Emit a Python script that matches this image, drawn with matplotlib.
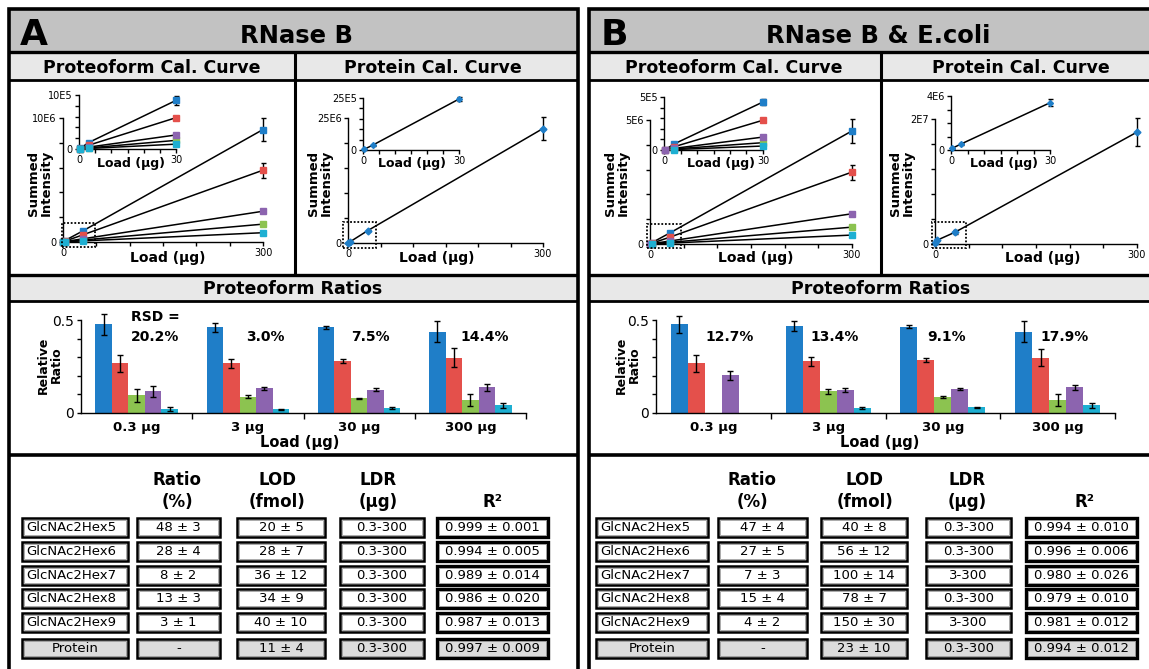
import matplotlib
matplotlib.use('Agg')
import matplotlib.pyplot as plt
from matplotlib.patches import Rectangle
from matplotlib.lines import Line2D
import numpy as np

plt.rcParams['font.family'] = ['DejaVu Sans']

W, H = 1149, 669

# ---------------- data ----------------
loads = [0.3, 3, 30, 300]
glycans = ['GlcNAc2Hex5', 'GlcNAc2Hex6', 'GlcNAc2Hex7', 'GlcNAc2Hex8', 'GlcNAc2Hex9']
colors = ['#1f7ec8', '#e4504b', '#8cc350', '#8c64af', '#1eafd2']
nan = float('nan')

# Panel A, proteoform calibration (summed intensity at each load)
a_form_int = [
    [0.010e6, 0.12e6, 0.90e6, 9.07e6],
    [0.006e6, 0.07e6, 0.58e6, 5.79e6],
    [0.002e6, 0.02e6, 0.16e6, 1.44e6],
    [0.004e6, 0.035e6, 0.26e6, 2.48e6],
    [0.001e6, 0.01e6, 0.09e6, 0.75e6],
]
a_form_err = [
    [0.002e6, 0.02e6, 0.09e6, 0.90e6],
    [0.001e6, 0.01e6, 0.03e6, 0.62e6],
    [0.000e6, 0.005e6, 0.01e6, 0.10e6],
    [0.001e6, 0.005e6, 0.01e6, 0.10e6],
    [0.000e6, 0.003e6, 0.01e6, 0.08e6],
]
# Panel A, protein calibration
a_prot_int = [0.03e6, 0.23e6, 2.45e6, 22.9e6]
a_prot_err = [0.01e6, 0.03e6, 0.08e6, 2.3e6]

# Panel B, proteoform calibration
b_form_int = [
    [0.005e5, 0.56e5, 4.53e5, 4.56e6],
    [0.015e5, 0.30e5, 2.81e5, 2.90e6],
    [nan, 0.10e5, 0.69e5, 0.68e6],
    [0.030e5, 0.15e5, 1.22e5, 1.22e6],
    [nan, 0.04e5, 0.375e5, 0.36e6],
]
b_form_err = [
    [0.01e5, 0.05e5, 0.30e5, 0.47e6],
    [0.01e5, 0.03e5, 0.15e5, 0.30e6],
    [nan, 0.01e5, 0.05e5, 0.05e6],
    [0.01e5, 0.01e5, 0.08e5, 0.06e6],
    [nan, 0.01e5, 0.04e5, 0.04e6],
]
# Panel B, protein calibration (main plot and 0-30 inset as drawn)
b_prot_int = [0.12e6, 0.60e6, 1.90e6, 17.9e6]
b_prot_err = [0.05e6, 0.10e6, 0.30e6, 2.2e6]
b_prot_inset = [0.12e6, 0.44e6, 3.50e6]
b_prot_inset_err = [0.05e6, 0.08e6, 0.25e6]

# Proteoform ratios (bars): rows = glycans, cols = loads
ratio_cats = ['0.3 μg', '3 μg', '30 μg', '300 μg']
a_ratio = [
    [0.477, 0.461, 0.461, 0.438],
    [0.268, 0.268, 0.279, 0.298],
    [0.095, 0.088, 0.079, 0.070],
    [0.116, 0.132, 0.125, 0.138],
    [0.021, 0.021, 0.027, 0.041],
]
a_ratio_err = [
    [0.055, 0.025, 0.008, 0.057],
    [0.045, 0.025, 0.012, 0.050],
    [0.035, 0.010, 0.004, 0.030],
    [0.030, 0.008, 0.008, 0.018],
    [0.010, 0.003, 0.003, 0.012],
]
b_ratio = [
    [0.477, 0.468, 0.464, 0.438],
    [0.268, 0.277, 0.284, 0.298],
    [nan, 0.116, 0.084, 0.070],
    [0.202, 0.125, 0.129, 0.138],
    [nan, 0.027, 0.030, 0.041],
]
b_ratio_err = [
    [0.045, 0.026, 0.008, 0.055],
    [0.045, 0.022, 0.012, 0.045],
    [nan, 0.012, 0.005, 0.030],
    [0.023, 0.010, 0.008, 0.012],
    [nan, 0.003, 0.003, 0.015],
]
a_rsd = ['RSD =\n20.2%', '3.0%', '7.5%', '14.4%']
b_rsd = ['12.7%', '13.4%', '9.1%', '17.9%']

# Tables
row_labels = glycans + ['Protein']
col_heads = ['Ratio\n(%)', 'LOD\n(fmol)', 'LDR\n(μg)', 'R²']
a_tab_ratio = ['48 ± 3', '28 ± 4', '8 ± 2', '13 ± 3', '3 ± 1', '-']
a_tab_lod = ['20 ± 5', '28 ± 7', '36 ± 12', '34 ± 9', '40 ± 10', '11 ± 4']
a_tab_ldr = ['0.3-300', '0.3-300', '0.3-300', '0.3-300', '0.3-300', '0.3-300']
a_tab_r2 = ['0.999 ± 0.001', '0.994 ± 0.005', '0.989 ± 0.014', '0.986 ± 0.020',
            '0.987 ± 0.013', '0.997 ± 0.009']
b_tab_ratio = ['47 ± 4', '27 ± 5', '7 ± 3', '15 ± 4', '4 ± 2', '-']
b_tab_lod = ['40 ± 8', '56 ± 12', '100 ± 14', '78 ± 7', '150 ± 30', '23 ± 10']
b_tab_ldr = ['0.3-300', '0.3-300', '3-300', '0.3-300', '3-300', '0.3-300']
b_tab_r2 = ['0.994 ± 0.010', '0.996 ± 0.006', '0.980 ± 0.026', '0.979 ± 0.010',
            '0.981 ± 0.012', '0.994 ± 0.012']

# ---------------- helpers ----------------
fig = plt.figure(figsize=(W / 100, H / 100), dpi=100)
fig.patch.set_facecolor('white')

def fx(x):
    return x / W

def fy(y):
    return 1 - y / H

def rect(x0, y0, x1, y1, fc='none', ec='none', lw=0, z=1, ls='-'):
    fig.add_artist(Rectangle((fx(x0), fy(y1)), (x1 - x0) / W, (y1 - y0) / H,
                             transform=fig.transFigure, fc=fc, ec=ec, lw=lw,
                             zorder=z, ls=ls))

def hline(x0, x1, y, lw=2.0, z=5):
    fig.add_artist(Line2D([fx(x0), fx(x1)], [fy(y), fy(y)], transform=fig.transFigure,
                          color='black', lw=lw, zorder=z, solid_capstyle='butt'))

def vline(x, y0, y1, lw=2.0, z=5):
    fig.add_artist(Line2D([fx(x), fx(x)], [fy(y0), fy(y1)], transform=fig.transFigure,
                          color='black', lw=lw, zorder=z, solid_capstyle='butt'))

def txt(x, y, s, size, weight='bold', ha='center', rot=0, ls=1.0):
    fig.text(fx(x), fy(y), s, fontsize=size, fontweight=weight, ha=ha, va='center',
             rotation=rot, linespacing=ls, zorder=10)

def px_axes(x0, x1, ytop, ybot):
    ax = fig.add_axes([fx(x0), fy(ybot), (x1 - x0) / W, (ybot - ytop) / H])
    ax.set_facecolor('none')
    for s in ['top', 'right']:
        ax.spines[s].set_visible(False)
    for s in ['left', 'bottom']:
        ax.spines[s].set_linewidth(1.0)
    ax.tick_params(direction='out', length=3, width=1.0, labelsize=7, pad=1.5)
    return ax

def noclip(cont):
    for ch in cont.get_children():
        ch.set_clip_on(False)

def cal_plot(px, xmax, xstep, ymax, ystep, ytop, ys, es, cols, marker, ms, n, box=None):
    ax = px_axes(*px)
    ax.set_xlim(0, xmax)
    ax.set_ylim(0, ymax)
    xt = np.arange(0, xmax + 1e-9, xstep)
    ax.set_xticks(xt)
    ax.set_xticklabels(['0'] + [''] * (len(xt) - 2) + [str(xmax)])
    yt = np.linspace(0, ymax, int(round(ymax / ystep)) + 1)
    ax.set_yticks(yt)
    ax.set_yticklabels(['0'] + [''] * (len(yt) - 2) + [ytop])
    for y, e, c in zip(ys, es, cols):
        xv = loads[:n]
        yv = y[:n]
        ev = e[:n]
        ln, = ax.plot(xv, yv, color='black', lw=1.1, zorder=2)
        ln.set_clip_on(False)
        cont = ax.errorbar(xv, yv, yerr=ev, fmt=marker, ms=ms, mfc=c, mec=c,
                           ecolor='black', elinewidth=1.0, capsize=1.8, capthick=1.0,
                           zorder=3)
        noclip(cont)
    if box is not None:
        bx0, by0, bx1, by1 = box
        ax.add_patch(Rectangle((bx0, by0), bx1 - bx0, by1 - by0, fill=False, ls=(0, (1, 1)),
                               lw=1.3, ec='black', clip_on=False, zorder=4))
    return ax

def bar_plot(px, vals, errs):
    ax = px_axes(*px)
    ax.set_xlim(-0.5, 3.5)
    ax.set_ylim(0, 0.5)
    ax.set_yticks(np.linspace(0, 0.5, 6))
    ax.set_yticklabels(['0', '', '', '', '', '0.5'])
    ax.tick_params(axis='y', labelsize=10, pad=2)
    ax.set_xticks(range(4))
    ax.set_xticklabels(ratio_cats, fontsize=9.5, fontweight='bold')
    ax.tick_params(axis='x', length=0, pad=6)
    ax.set_xticks([0.5, 1.5, 2.5, 3.5], minor=True)
    ax.tick_params(axis='x', which='minor', length=4, width=1.0, direction='out')
    w = 0.148
    x = np.arange(4)
    for i, (v, e, c) in enumerate(zip(vals, errs, colors)):
        v = np.array(v, dtype=float)
        e = np.array(e, dtype=float)
        m = ~np.isnan(v)
        cont = ax.bar(x[m] + (i - 2) * w, v[m], w, color=c, yerr=e[m],
                      error_kw=dict(ecolor='black', elinewidth=1.0, capsize=2, capthick=1.0),
                      zorder=2)
        for a in cont.errorbar.get_children():
            a.set_clip_on(False)
    return ax

# ---------------- panel frames ----------------
def panel_frame(x0, x1, letter, title, title_x, sub1_x, sub2_x, div_x, ratio_x):
    rect(x0, 9, x1, 52, fc='#c2c2c2', z=0)
    rect(x0, 52, x1, 80, fc='#e8e8e8', z=0)
    rect(x0, 275, x1, 301, fc='#e8e8e8', z=0)
    rect(x0, 9, x1, 680, fc='none', ec='black', lw=2.6, z=6)
    hline(x0, x1, 52, lw=2.4)
    hline(x0, x1, 80, lw=2.0)
    vline(div_x, 52, 275, lw=2.2)
    hline(x0, x1, 275, lw=2.4)
    hline(x0, x1, 301, lw=2.0)
    hline(x0, x1, 455, lw=2.6)
    txt(x0 + 25, 35, letter, 26)
    txt(title_x, 36, title, 17.5)
    txt(sub1_x, 68, 'Proteoform Cal. Curve', 12.5)
    txt(sub2_x, 68, 'Protein Cal. Curve', 12.5)
    txt(ratio_x, 289, 'Proteoform Ratios', 12.5)

panel_frame(9, 578, 'A', 'RNase B', 297, 152, 433, 295, 293)
panel_frame(589, 1160, 'B', 'RNase B & E.coli', 878, 734, 1021, 881, 881)

# ---------------- calibration curves ----------------
# Panel A proteoform
cal_plot((63, 263, 118, 242), 300, 50, 1e7, 2e6, '10E6', a_form_int, a_form_err, colors,
         's', 5, 4, box=(-2, -0.4e6, 48, 1.5e6))
cal_plot((79, 176, 95, 149), 30, 5, 1e6, 2e5, '10E5', a_form_int, a_form_err, colors,
         's', 4.5, 3)
txt(168, 258, 'Load (μg)', 10)
txt(131, 164, 'Load (μg)', 9)
txt(40, 183, 'Summed\nIntensity', 9.5, rot=90)

# Panel A protein
cal_plot((348, 543, 118, 243), 300, 50, 25e6, 5e6, '25E6', [a_prot_int], [a_prot_err],
         [colors[0]], 'D', 3.5, 4, box=(-8, -1e6, 43, 4.1e6))
cal_plot((363, 459, 98, 150), 30, 5, 2.5e6, 0.5e6, '25E5', [a_prot_int], [a_prot_err],
         [colors[0]], 'D', 3, 3)
txt(437, 258, 'Load (μg)', 10)
txt(412, 164, 'Load (μg)', 9)
txt(320, 183, 'Summed\nIntensity', 9.5, rot=90)

# Panel B proteoform
cal_plot((650, 852, 120, 244), 300, 50, 5e6, 1e6, '5E6', b_form_int, b_form_err, colors,
         's', 5, 4, box=(-4, -0.16e6, 46, 0.8e6))
cal_plot((664, 763, 97, 150), 30, 5, 5e5, 1e5, '5E5', b_form_int, b_form_err, colors,
         's', 4.5, 3)
txt(756, 258, 'Load (μg)', 10)
txt(721, 163, 'Load (μg)', 9)
txt(617, 183, 'Summed\nIntensity', 9.5, rot=90)

# Panel B protein
cal_plot((935, 1137, 119, 244), 300, 50, 2e7, 4e6, '2E7', [b_prot_int], [b_prot_err],
         [colors[0]], 'D', 3.5, 4, box=(-5, -0.64e6, 46, 3.5e6))
cal_plot((951, 1050, 96, 150), 30, 5, 4e6, 1e6, '4E6', [b_prot_inset], [b_prot_inset_err],
         [colors[0]], 'D', 3, 3)
txt(1043, 258, 'Load (μg)', 10)
txt(1004, 163, 'Load (μg)', 9)
txt(902, 183, 'Summed\nIntensity', 9.5, rot=90)

# ---------------- ratio bars ----------------
bar_plot((81, 526, 320, 413), a_ratio, a_ratio_err)
txt(300, 442, 'Load (μg)', 10.5)
txt(50, 365, 'Relative\nRatio', 9, rot=90)
txt(155, 327, a_rsd[0], 10, ls=1.5)
txt(265, 337, a_rsd[1], 10)
txt(370, 337, a_rsd[2], 10)
txt(485, 337, a_rsd[3], 10)

bar_plot((656, 1115, 320, 413), b_ratio, b_ratio_err)
txt(880, 442, 'Load (μg)', 10.5)
txt(628, 365, 'Relative\nRatio', 9, rot=90)
for xx, s in zip([730, 835, 947, 1065], b_rsd):
    txt(xx, 337, s, 10)

# ---------------- tables ----------------
row_y = [527, 551, 575, 598, 622, 648]
box_h = 19

def table(cols_x, head_x, cols):
    for hx, h in zip(head_x, col_heads):
        if h == 'R²':
            txt(hx, 502, h, 12)
        else:
            txt(hx, 491, h, 12, ls=1.35)
    for r, yc in enumerate(row_y):
        prot = (r == len(row_y) - 1)
        fc = '#dcdcdc' if prot else 'white'
        for c, (bx0, bx1) in enumerate(cols_x):
            lw = 2.4 if c == 4 else 1.8
            rect(bx0, yc - box_h / 2, bx1, yc + box_h / 2, fc=fc, ec='black', lw=lw, z=3)
            rect(bx0 + 2, yc - box_h / 2 + 2, bx1 - 2, yc + box_h / 2 - 2, fc='none',
                 ec='#888888', lw=0.5, z=3)
            if c == 0:
                s = row_labels[r]
                if prot:
                    txt((bx0 + bx1) / 2, yc + 0.5, s, 9.5, weight='normal')
                else:
                    txt(bx0 + 4, yc + 0.5, s, 9.5, weight='normal', ha='left')
            else:
                txt((bx0 + bx1) / 2, yc + 0.5, cols[c - 1][r], 9.5, weight='normal')

table([(22, 128), (137, 220), (237, 325), (340, 424), (437, 548)],
      [177, 277, 378, 493],
      [a_tab_ratio, a_tab_lod, a_tab_ldr, a_tab_r2])
table([(596, 708), (718, 807), (821, 907), (926, 1011), (1026, 1137)],
      [752, 865, 967, 1084],
      [b_tab_ratio, b_tab_lod, b_tab_ldr, b_tab_r2])

fig.savefig('out.png', dpi=100)
